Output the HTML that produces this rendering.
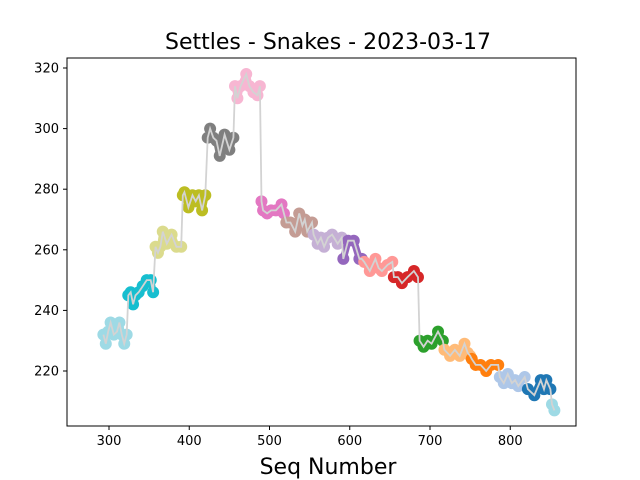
<!DOCTYPE html>
<html><head><meta charset="utf-8"><style>
body{margin:0;background:#fff}
svg{display:block;font-family:"DejaVu Sans","Liberation Sans",sans-serif}
</style></head><body>
<svg id="c" width="640" height="480">
<rect width="640" height="480" fill="#fff"/>
<text x="328" y="49" font-size="22" text-anchor="middle">Settles - Snakes - 2023-03-17</text>
<text x="328" y="474" font-size="22" text-anchor="middle">Seq Number</text>
<g id="marks"></g>
<rect x="67" y="58" width="509" height="368" fill="none" stroke="#000" stroke-width="1"/>
<g id="axes"></g>
</svg>
<script>
const snakeColors=["#9edae5","#17becf","#dbdb8d","#bcbd22","#7f7f7f","#f7b6d2","#e377c2","#c49c94","#c5b0d5","#9467bd","#ff9896","#d62728","#2ca02c","#ffbb78","#ff7f0e","#aec7e8","#1f77b4","#9edae5"];
const snakeSeq=[
[293,296,299,302,306,310,313,316,319,322],
[324,327,330,333,337,342,347,352,355],
[358,361,364,367,372,378,384,390],
[392,394,399,404,408,412,416,420],
[423,426,430,434,438,444,450,455],
[457,460,464,471,475,480,485,488],
[490,492,497,502,508,515,518],
[521,526,532,537,541,544,547,553],
[555,560,564,568,573,578,585,590],
[592,598,605,612,615],
[618,625,632,636,640,647,653],
[655,660,665,672,680,685],
[687,692,697,702,710,716],
[718,725,731,737,743,747,750],
[752,757,763,770,776,785],
[787,792,797,802,806,810,818],
[822,830,838,842,845,850],
[852,855]];
const snakeVal=[
[232,229,233,236,232,233,236,232,229,232],
[245,246,242,245,246,248,250,250,246],
[261,259,261,266,262,265,261,261],
[278,279,274,278,276,278,273,278],
[297,300,297,296,291,298,293,297],
[314,310,314,318,314,312,311,314],
[276,273,272,273,273,275,272],
[269,269,266,272,268,270,266,269],
[265,262,264,261,264,265,262,264],
[257,263,263,257,257],
[256,253,257,254,253,255,256],
[251,251,249,251,253,251],
[230,228,230,229,233,230],
[227,225,227,225,229,226,225],
[224,222,222,220,222,222],
[218,216,219,216,217,215,218],
[214,212,217,214,217,214],
[209,207]];
const xTicks=[300,400,500,600,700,800];
const yTicks=[220,240,260,280,300,320];
const X=s=>109+(s-300)*0.8025;
const Y=v=>68+(320-v)*3.03;
const NS="http://www.w3.org/2000/svg";
const marks=document.getElementById('marks'),axes=document.getElementById('axes');
function mk(tag,attrs,parent){const e=document.createElementNS(NS,tag);for(const k in attrs)e.setAttribute(k,attrs[k]);parent.appendChild(e);return e;}
const allPts=[];
snakeSeq.forEach((seqs,i)=>{
  const g=mk('g',{},marks);
  
  
  const pts=seqs.map((s,j)=>X(s).toFixed(1)+','+Y(snakeVal[i][j]).toFixed(1));
  pts.forEach(p=>allPts.push(p));
  const pl=mk('polyline',{points:pts.join(' '),fill:'none',stroke:snakeColors[i],'stroke-width':7,'stroke-linejoin':'round','stroke-linecap':'round'},g);
  
  
  seqs.forEach((s,j)=>{
    const c=mk('circle',{cx:X(s),cy:Y(snakeVal[i][j]),r:6,fill:snakeColors[i]},g);
    
    
  });
});
const line=mk('polyline',{points:allPts.join(' '),fill:'none',stroke:'#d3d3d3','stroke-width':1.8},marks);


xTicks.forEach(t=>{
  const l=mk('line',{x1:X(t),x2:X(t),y1:426,y2:430,stroke:'#000'},axes);
  
  
  const tx=mk('text',{x:X(t),y:445,'font-size':13,'text-anchor':'middle'},axes);
  tx.textContent=t;
  
  
});
yTicks.forEach(t=>{
  const l=mk('line',{x1:63,x2:67,y1:Y(t),y2:Y(t),stroke:'#000'},axes);
  
  
  const tx=mk('text',{x:59,y:Y(t)+4.5,'font-size':13,'text-anchor':'end'},axes);
  tx.textContent=t;
  
  
});
</script>
</body></html>
